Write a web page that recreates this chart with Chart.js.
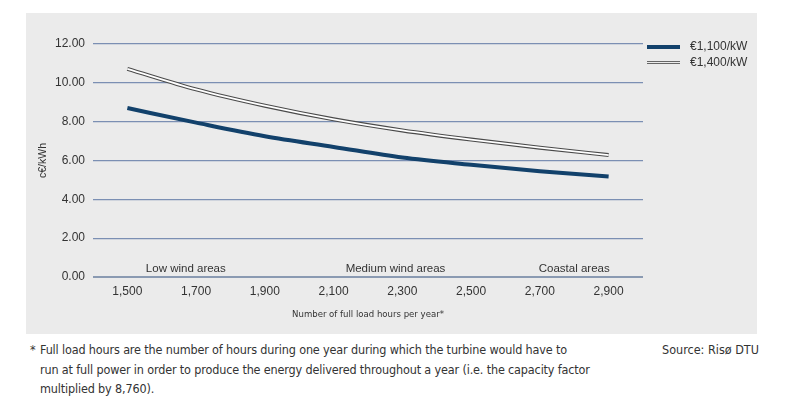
<!DOCTYPE html>
<html>
<head>
<meta charset="utf-8">
<script src="https://cdn.jsdelivr.net/npm/chart.js@4"></script>
<style>
    body { margin: 0; width: 800px; height: 404px; background: #fff; position: relative; font-family: "Liberation Sans", Arial, sans-serif; overflow: hidden; }
    #panel { position: absolute; left: 26px; top: 13px; width: 731px; height: 321px; background: #ebebeb; }
    #chart { position: absolute; left: 0; top: 0; }
    .legend { position: absolute; left: 621px; font-size: 12px; color: #333; }
    .legend .key { position: absolute; left: 0; width: 33px; }
    .legend .txt { position: absolute; left: 43px; top: -8px; white-space: nowrap; }
    .narrow { font-family: "Liberation Sans Narrow", "DejaVu Sans Condensed", sans-serif; color: #333; }
    #note { position: absolute; left: 30px; top: 340px; font-size: 12.5px; line-height: 19.5px; white-space: nowrap; letter-spacing: -0.15px; }
    #note .star { position: absolute; left: 0; top: 0; }
    #note .body { margin-left: 10px; }
    #source { position: absolute; left: 662px; top: 340px; font-size: 12.5px; line-height: 19.5px; }
</style>
</head>
<body>
<div id="panel">
    <canvas id="chart" width="731" height="321"></canvas>
    <div class="legend" style="top:34px">
        <div class="key" style="top:-2px;height:4px;background:#12416b"></div>
        <div class="txt">€1,100/kW</div>
    </div>
    <div class="legend" style="top:50px">
        <div class="key" style="top:-2px;height:1px;border-top:1px solid #666;border-bottom:1px solid #666"></div>
        <div class="txt">€1,400/kW</div>
    </div>
</div>
<div id="note" class="narrow"><span class="star">*</span><div class="body">Full load hours are the number of hours during one year during which the turbine would have to<br>run at full power in order to produce the energy delivered throughout a year (i.e. the capacity factor<br>multiplied by 8,760).</div></div>
<div id="source" class="narrow">Source: Risø DTU</div>

<script>
// Data
const hours = ['1,500', '1,700', '1,900', '2,100', '2,300', '2,500', '2,700', '2,900'];
const cost1100 = [8.70, 7.95, 7.25, 6.70, 6.15, 5.78, 5.45, 5.17];
const cost1400 = [10.72, 9.66, 8.82, 8.12, 7.55, 7.08, 6.66, 6.28];
const yTicks = [0, 2, 4, 6, 8, 10, 12];

// Area labels sit above the x axis (position given as category index)
const areaLabels = [
    { text: 'Low wind areas', at: 0.85 },
    { text: 'Medium wind areas', at: 3.9 },
    { text: 'Coastal areas', at: 6.5 }
];

const areaLabelPlugin = {
    id: 'areaLabels',
    afterDatasetsDraw(chart) {
        const ctx = chart.ctx;
        const x = chart.scales.x;
        const y = chart.scales.y;
        ctx.save();
        ctx.font = '11.5px "Liberation Sans", Arial, sans-serif';
        ctx.fillStyle = '#333';
        ctx.textAlign = 'center';
        ctx.textBaseline = 'alphabetic';
        areaLabels.forEach(a => {
            const px = x.getPixelForValue(0) + a.at * (x.getPixelForValue(1) - x.getPixelForValue(0));
            ctx.fillText(a.text, px, y.getPixelForValue(0) - 5);
        });
        ctx.restore();
    }
};

const common = {
    fill: false,
    pointRadius: 0,
    cubicInterpolationMode: 'monotone',
    borderCapStyle: 'butt'
};

new Chart(document.getElementById('chart'), {
    type: 'line',
    data: {
        labels: hours,
        datasets: [
            { ...common, label: '€1,100/kW', data: cost1100, borderColor: '#12416b', borderWidth: 4, order: 2 },
            { ...common, label: '€1,400/kW', data: cost1400, borderColor: '#4a4a4a', borderWidth: 4, order: 1 },
            { ...common, label: '€1,400/kW inner', data: cost1400, borderColor: '#ffffff', borderWidth: 1.8, order: 0 }
        ]
    },
    options: {
        responsive: false,
        animation: false,
        layout: { padding: { left: 0, right: 114, top: 31, bottom: 0 } },
        plugins: { legend: { display: false }, tooltip: { enabled: false } },
        scales: {
            x: {
                offset: true,
                grid: { display: false, drawTicks: false },
                border: { display: false },
                ticks: { color: '#333', font: { size: 12, family: '"Liberation Sans", Arial, sans-serif' }, padding: 7, maxRotation: 0 },
                title: {
                    display: true,
                    text: 'Number of full load hours per year*',
                    color: '#333',
                    font: { size: 9.5, family: '"Liberation Sans Narrow", "DejaVu Sans Condensed", sans-serif' },
                    padding: { top: 10, bottom: 14 }
                },
                afterFit: s => { s.height = 57; }
            },
            y: {
                min: 0,
                max: 12,
                afterBuildTicks: s => { s.ticks = yTicks.map(v => ({ value: v })); },
                grid: {
                    drawTicks: false,
                    color: c => c.tick.value === 0 ? '#8a9ab2' : '#7b8fb3',
                    lineWidth: c => c.tick.value === 0 ? 2 : 1.2
                },
                border: { display: false },
                ticks: {
                    color: '#333',
                    font: { size: 12, family: '"Liberation Sans", Arial, sans-serif' },
                    padding: 8,
                    callback: v => v.toFixed(2)
                },
                title: {
                    display: true,
                    text: 'c€/kWh',
                    color: '#333',
                    font: { size: 10.5, family: '"Liberation Sans", Arial, sans-serif' },
                    padding: { top: 11, bottom: 10 }
                },
                afterFit: s => { s.width = 67; }
            }
        }
    },
    plugins: [areaLabelPlugin]
});
</script>
</body>
</html>
